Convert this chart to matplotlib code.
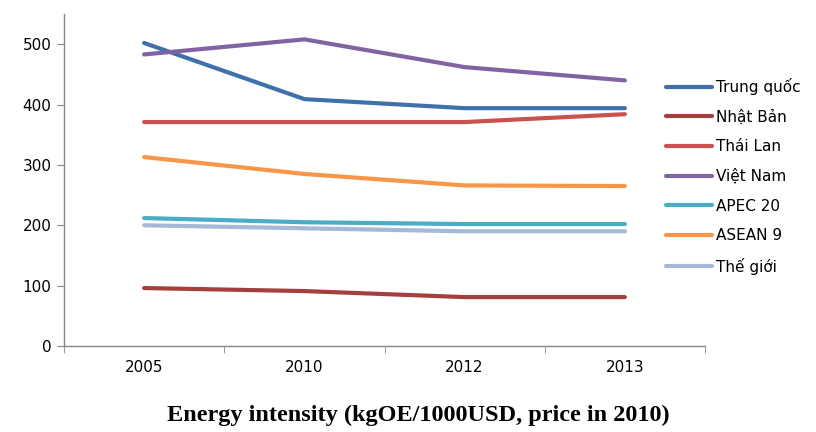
import matplotlib
matplotlib.use("Agg")
import matplotlib.pyplot as plt

years = ["2005", "2010", "2012", "2013"]
series_names = ["Trung quốc", "Nhật Bản", "Thái Lan", "Việt Nam", "APEC 20", "ASEAN 9", "Thế giới"]
trung_quoc = [502, 409, 394, 394]
nhat_ban = [96, 91, 81, 81]
thai_lan = [371, 371, 371, 384]
viet_nam = [483, 508, 462, 440]
apec20 = [212, 205, 202, 202]
asean9 = [313, 285, 266, 265]
the_gioi = [200, 195, 190, 190]
yticks = [0, 100, 200, 300, 400, 500]
title = "Energy intensity (kgOE/1000USD, price in 2010)"

colors = ["#4070AA", "#A3403D", "#CB514E", "#8064A2", "#4BACC6", "#F79646", "#A5B8D7"]
data = [trung_quoc, nhat_ban, thai_lan, viet_nam, apec20, asean9, the_gioi]

fig = plt.figure(figsize=(8.16, 4.32), dpi=100)
ax = fig.add_axes([64/816, (432-346)/432, (705-64)/816, (346-14)/432])

x = list(range(len(years)))
handles = []
for name, vals, c in zip(series_names, data, colors):
    h, = ax.plot(x, vals, color=c, lw=3, solid_capstyle="round", label=name)
    handles.append(h)

ax.set_xlim(-0.5, len(years) - 0.5)
ax.set_ylim(0, 550)
ax.set_yticks(yticks)
ax.set_yticklabels([str(v) for v in yticks], fontsize=11)
ax.set_xticks(x)
ax.set_xticklabels(years, fontsize=11)
ax.tick_params(axis="x", length=0, pad=10)
ax.set_xticks([i - 0.5 for i in range(len(years) + 1)], minor=True)
ax.tick_params(axis="x", which="minor", length=5, color="#888888", direction="out")
ax.tick_params(axis="y", length=5, color="#888888", direction="out", pad=4)
for s in ["top", "right"]:
    ax.spines[s].set_visible(False)
for s in ["left", "bottom"]:
    ax.spines[s].set_color("#888888")
    ax.spines[s].set_linewidth(1)

fig.legend(handles=handles, loc="upper left", bbox_to_anchor=(660/816, 1 - 72/432),
           frameon=False, fontsize=11, handlelength=3.0, handletextpad=0.25,
           labelspacing=0.95, borderaxespad=0)

fig.text(418/816, 1 - 415/432, title, ha="center", va="center",
         fontsize=17.5, fontweight="bold", family="Liberation Serif")

fig.savefig("out.png", dpi=100)
